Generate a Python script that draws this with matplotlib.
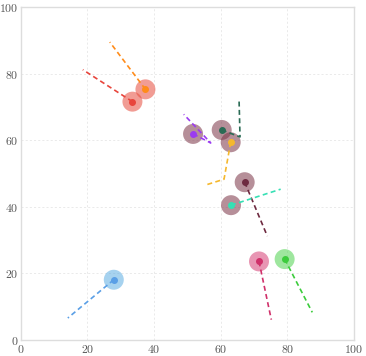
import matplotlib
matplotlib.use("Agg")
import matplotlib.pyplot as plt
from matplotlib.patches import Circle
from matplotlib.ticker import FuncFormatter

plt.rcParams['mathtext.fontset'] = 'cm'

# agent positions (centre of each trajectory)
xs = [33.5, 37.4, 27.9, 51.7, 60.3, 63.0, 67.2, 63.1, 71.5, 79.2]
ys = [71.6, 75.3, 18.1, 61.9, 63.1, 59.4, 47.4, 40.5, 23.6, 24.3]

# dashed trajectories, starting at the centre
path_x = [
    [33.5, 18.6],
    [37.4, 26.7],
    [27.9, 14.1],
    [51.7, 57.0, 48.9],
    [60.3, 65.8, 65.5],
    [63.0, 61.0, 55.3],
    [67.2, 74.0],
    [63.1, 78.0],
    [71.5, 75.2],
    [79.2, 87.5],
]
path_y = [
    [71.6, 81.2],
    [75.3, 89.5],
    [18.1, 6.6],
    [61.9, 59.2, 67.8],
    [63.1, 61.0, 72.6],
    [59.4, 48.3, 46.5],
    [47.4, 31.2],
    [40.5, 45.3],
    [23.6, 6.1],
    [24.3, 8.3],
]

line_colors = ['#e8453c', '#ff8c1a', '#5a9fe6', '#9b3cf0', '#2a6b55',
               '#f5b82e', '#6e2a40', '#36e0b4', '#d0306a', '#3ccc3c']
halo_colors = ['#e74c3c', '#e74c3c', '#5dade2', '#7b3346', '#7b3346',
               '#7b3346', '#7b3346', '#7b3346', '#d63f75', '#4fd34f']
ticks = [0, 20, 40, 60, 80, 100]

fig = plt.figure(figsize=(3.66, 3.56), dpi=100)
ax = fig.add_axes([0.057, 0.045, 0.910, 0.935])

for i in range(len(xs)):
    ax.add_patch(Circle((xs[i], ys[i]), 3.0, color=halo_colors[i],
                        alpha=0.55, lw=0, zorder=2))
    ax.plot(path_x[i], path_y[i], ls=(0, (3, 2)), lw=1.2,
            color=line_colors[i], zorder=3)
    ax.plot(xs[i], ys[i], 'o', ms=4, color=line_colors[i], zorder=4)

ax.set_xlim(0, 100)
ax.set_ylim(0, 100)
ax.set_xticks(ticks)
ax.set_yticks(ticks)
fmt = FuncFormatter(lambda v, p: r'$%d$' % v)
ax.xaxis.set_major_formatter(fmt)
ax.yaxis.set_major_formatter(fmt)
ax.tick_params(length=0, labelsize=8.5, labelcolor='#555555', pad=2)
ax.grid(True, ls=(0, (3, 3)), lw=0.5, color='#e2e2e2')
ax.set_axisbelow(True)
for s in ax.spines.values():
    s.set_color('#dddddd')
    s.set_linewidth(1.0)

fig.savefig('out.png', dpi=100)
